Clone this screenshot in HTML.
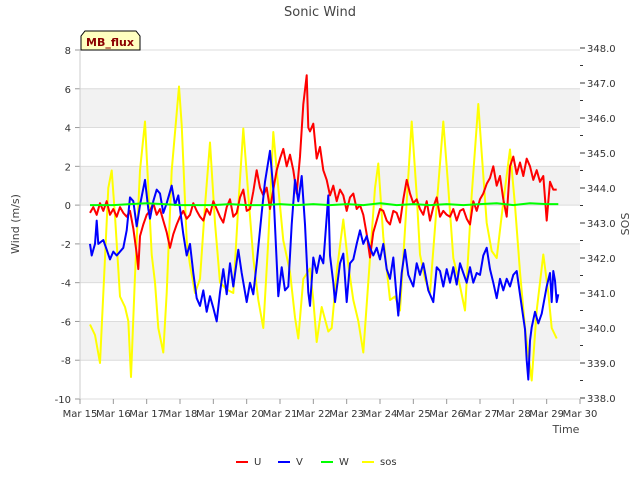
<!DOCTYPE html>
<html><head><meta charset="utf-8"><style>
body{margin:0;background:#fff;}
svg text{font-family:"DejaVu Sans","Liberation Sans",sans-serif;}
</style></head><body>
<svg id="chart" width="640" height="480" viewBox="0 0 640 480">
<g id="bands"></g><g id="grid"></g><g id="axes"></g><g id="series"></g>
<text x="320" y="16" text-anchor="middle" font-size="13" fill="#444">Sonic Wind</text>
<text transform="translate(19,224) rotate(-90)" text-anchor="middle" font-size="11" fill="#444">Wind (m/s)</text>
<text transform="translate(629,224) rotate(-90)" text-anchor="middle" font-size="11" fill="#444">SOS</text>
<text x="566" y="433" text-anchor="middle" font-size="11" fill="#444">Time</text>
<g>
<path d="M81,50 L81,36 L85,31 L136,31 L140,36 L140,50 Z" fill="#ffffc0" stroke="#000" stroke-width="1"/>
<text x="110" y="46" text-anchor="middle" font-size="11" font-weight="bold" fill="#8b0000">MB_flux</text>
</g>
<g id="legend"></g>
</svg>
<script>
const xTickLabels=["Mar 15","Mar 16","Mar 17","Mar 18","Mar 19","Mar 20","Mar 21","Mar 22","Mar 23","Mar 24","Mar 25","Mar 26","Mar 27","Mar 28","Mar 29","Mar 30"];
const yTicks=[-10,-8,-6,-4,-2,0,2,4,6,8];
const y2Ticks=[338,339,340,341,342,343,344,345,346,347,348];
const seriesNames=["U","V","W","sos"];
const seriesColors=["#ff0000","#0000ff","#00ff00","#ffff00"];
const uData=[[0.3,-0.4],[0.4,-0.1],[0.5,-0.5],[0.6,0.1],[0.7,-0.3],[0.8,0.2],[0.9,-0.5],[1.0,-0.2],[1.1,-0.6],[1.2,-0.1],[1.3,-0.4],[1.4,-0.6],[1.5,-0.3],[1.6,-1.2],[1.7,-2.5],[1.75,-3.3],[1.8,-1.6],[1.9,-1.0],[2.0,-0.5],[2.1,-0.3],[2.2,0.1],[2.3,-0.5],[2.4,-0.2],[2.5,-0.8],[2.6,-1.4],[2.7,-2.2],[2.8,-1.5],[2.9,-1.0],[3.0,-0.6],[3.1,-0.3],[3.2,-0.7],[3.3,-0.5],[3.4,0.1],[3.5,-0.3],[3.6,-0.6],[3.7,-0.8],[3.8,-0.2],[3.9,-0.5],[4.0,0.2],[4.1,-0.2],[4.2,-0.6],[4.3,-0.9],[4.4,-0.1],[4.5,0.3],[4.6,-0.6],[4.7,-0.4],[4.8,0.4],[4.9,0.8],[5.0,-0.3],[5.1,-0.2],[5.2,0.7],[5.3,1.8],[5.4,0.9],[5.5,0.5],[5.6,0.9],[5.7,-0.2],[5.8,0.8],[5.9,1.8],[6.0,2.4],[6.1,2.9],[6.2,2.0],[6.3,2.6],[6.4,1.8],[6.5,0.6],[6.6,2.5],[6.7,5.2],[6.8,6.7],[6.85,4.0],[6.9,3.8],[7.0,4.2],[7.1,2.4],[7.2,3.0],[7.3,1.8],[7.4,1.3],[7.5,0.5],[7.6,1.0],[7.7,0.2],[7.8,0.8],[7.9,0.5],[8.0,-0.3],[8.1,0.4],[8.2,0.6],[8.3,-0.2],[8.4,0.0],[8.5,-0.5],[8.6,-1.5],[8.7,-2.7],[8.8,-1.4],[8.9,-0.8],[9.0,-0.2],[9.1,-0.3],[9.2,-0.8],[9.3,-1.0],[9.4,-0.3],[9.5,-0.4],[9.6,-0.9],[9.7,0.3],[9.8,1.3],[9.9,0.6],[10.0,0.1],[10.1,0.3],[10.2,-0.2],[10.3,-0.5],[10.4,0.2],[10.5,-0.8],[10.6,-0.1],[10.7,0.4],[10.8,-0.6],[10.9,-0.3],[11.0,-0.5],[11.1,-0.6],[11.2,-0.2],[11.3,-0.8],[11.4,-0.3],[11.5,-0.2],[11.6,-0.7],[11.7,-1.0],[11.8,0.2],[11.9,-0.3],[12.0,0.3],[12.1,0.6],[12.2,1.1],[12.3,1.4],[12.4,2.0],[12.5,1.0],[12.6,1.5],[12.7,0.3],[12.8,-0.6],[12.9,2.0],[13.0,2.5],[13.1,1.6],[13.2,2.2],[13.3,1.5],[13.4,2.4],[13.5,2.0],[13.6,1.3],[13.7,1.8],[13.8,1.2],[13.9,1.5],[14.0,-0.8],[14.1,1.2],[14.2,0.8],[14.3,0.8]];
const vData=[[0.3,-2.0],[0.35,-2.6],[0.45,-2.0],[0.5,-0.8],[0.55,-2.0],[0.7,-1.8],[0.8,-2.3],[0.9,-2.8],[1.0,-2.4],[1.1,-2.6],[1.3,-2.2],[1.4,-1.3],[1.5,0.4],[1.6,0.2],[1.7,-1.1],[1.8,0.0],[1.95,1.3],[2.05,-0.2],[2.1,-0.7],[2.2,0.2],[2.3,0.8],[2.4,0.6],[2.5,-0.4],[2.6,0.1],[2.75,1.0],[2.85,0.0],[2.95,0.5],[3.1,-1.5],[3.2,-2.6],[3.3,-2.0],[3.4,-3.5],[3.5,-4.8],[3.6,-5.2],[3.7,-4.4],[3.8,-5.5],[3.9,-4.7],[4.0,-5.3],[4.1,-6.0],[4.2,-4.5],[4.3,-3.3],[4.4,-4.6],[4.5,-3.0],[4.6,-4.2],[4.75,-2.3],[4.85,-3.5],[5.0,-5.0],[5.1,-4.0],[5.2,-4.6],[5.3,-3.0],[5.45,-0.4],[5.55,1.2],[5.7,2.8],[5.8,0.8],[5.95,-4.7],[6.05,-3.2],[6.15,-4.4],[6.25,-4.2],[6.35,-1.0],[6.45,1.3],[6.55,0.2],[6.65,1.5],[6.75,-1.0],[6.85,-4.5],[6.9,-5.2],[7.0,-2.7],[7.1,-3.5],[7.2,-2.6],[7.3,-3.0],[7.45,0.5],[7.5,-2.6],[7.6,-4.0],[7.65,-5.0],[7.8,-3.0],[7.9,-2.5],[8.0,-5.0],[8.1,-3.0],[8.2,-2.8],[8.3,-2.0],[8.4,-1.3],[8.5,-2.0],[8.6,-1.6],[8.7,-2.2],[8.8,-2.6],[8.9,-2.2],[9.0,-2.8],[9.1,-2.0],[9.2,-3.3],[9.3,-3.8],[9.4,-2.7],[9.5,-4.8],[9.55,-5.7],[9.65,-3.5],[9.75,-2.3],[9.85,-3.6],[10.0,-4.2],[10.1,-3.0],[10.2,-3.6],[10.3,-3.0],[10.45,-4.4],[10.6,-5.0],[10.7,-3.2],[10.8,-3.4],[10.9,-4.2],[11.0,-3.3],[11.1,-4.0],[11.2,-3.2],[11.3,-4.1],[11.4,-3.0],[11.5,-3.5],[11.6,-4.0],[11.7,-3.2],[11.8,-4.0],[11.9,-3.5],[12.0,-3.6],[12.1,-2.6],[12.2,-2.2],[12.3,-3.3],[12.4,-4.0],[12.5,-4.8],[12.6,-3.8],[12.7,-4.4],[12.8,-3.8],[12.9,-4.2],[13.0,-3.6],[13.1,-3.4],[13.2,-4.6],[13.3,-5.8],[13.35,-6.4],[13.4,-8.0],[13.45,-9.0],[13.5,-7.0],[13.55,-6.3],[13.65,-5.5],[13.75,-6.1],[13.85,-5.6],[14.0,-4.2],[14.1,-3.5],[14.15,-5.0],[14.2,-3.4],[14.25,-3.9],[14.3,-5.0],[14.35,-4.6]];
const wData=[[0.3,0.0],[1.0,0.0],[1.5,0.05],[2.0,0.1],[2.5,0.05],[3.0,0.0],[3.5,0.0],[4.0,0.0],[4.5,0.05],[5.0,0.0],[5.5,0.0],[6.0,0.05],[6.5,0.0],[7.0,0.05],[7.5,0.0],[8.0,0.05],[8.5,0.0],[9.0,0.1],[9.5,0.0],[10.0,0.05],[10.5,0.0],[11.0,0.05],[11.5,0.0],[12.0,0.05],[12.5,0.1],[13.0,0.0],[13.5,0.1],[14.0,0.05],[14.35,0.05]];
const sosData=[[0.3,340.1],[0.45,339.8],[0.6,339.0],[0.75,342.0],[0.85,344.0],[0.95,344.5],[1.05,343.2],[1.2,340.9],[1.35,340.6],[1.45,340.2],[1.53,338.6],[1.65,341.5],[1.8,344.5],[1.95,345.9],[2.05,344.0],[2.15,342.1],[2.25,341.3],[2.35,340.0],[2.5,339.3],[2.6,341.0],[2.75,344.5],[2.97,346.9],[3.05,345.8],[3.2,342.5],[3.3,341.8],[3.45,341.0],[3.6,341.4],[3.75,343.5],[3.9,345.3],[4.05,343.0],[4.2,341.3],[4.4,341.1],[4.6,341.0],[4.75,343.5],[4.9,345.7],[5.05,343.8],[5.2,342.0],[5.35,340.8],[5.5,340.0],[5.65,342.5],[5.8,345.6],[5.95,344.0],[6.1,342.5],[6.3,341.6],[6.45,340.3],[6.55,339.7],[6.7,341.4],[6.9,341.7],[7.0,340.8],[7.1,339.6],[7.25,340.6],[7.45,339.9],[7.55,340.0],[7.7,341.6],[7.9,343.1],[8.05,341.8],[8.2,340.8],[8.35,340.2],[8.5,339.3],[8.7,342.0],[8.85,344.0],[8.95,344.7],[9.1,342.6],[9.3,340.8],[9.45,340.9],[9.6,340.5],[9.8,343.6],[9.95,345.9],[10.1,343.8],[10.2,342.1],[10.35,341.4],[10.5,341.0],[10.7,343.5],[10.9,345.9],[11.05,344.0],[11.2,342.0],[11.4,341.2],[11.55,340.5],[11.75,343.8],[11.95,346.4],[12.05,345.0],[12.2,343.0],[12.35,342.2],[12.5,342.0],[12.7,343.6],[12.9,345.1],[13.05,343.5],[13.2,341.6],[13.35,340.0],[13.55,338.5],[13.7,340.5],[13.9,342.1],[14.05,341.0],[14.15,340.0],[14.3,339.7]];

const NS="http://www.w3.org/2000/svg";
const L=80,R=580,T=50,B=399;
function xs(d){return L+d*(R-L)/15;}
function ys(v){return T+(8-v)*(B-T)/18;}
function ys2(v){return 48+(348-v)*35;}
function mk(tag,attrs,parent){const e=document.createElementNS(NS,tag);for(const k in attrs)e.setAttribute(k,attrs[k]);parent.appendChild(e);return e;}
const bands=document.getElementById('bands'),grid=document.getElementById('grid'),axes=document.getElementById('axes'),ser=document.getElementById('series'),leg=document.getElementById('legend');
mk('rect',{x:L,y:T,width:R-L,height:B-T,fill:'#fff'},bands);
for(const lo of [4,0,-4,-8]){
  const b=mk('rect',{x:L,y:ys(lo+2),width:R-L,height:ys(lo)-ys(lo+2),fill:'#f2f2f2'},bands);
  
  
}
yTicks.forEach(v=>{
  const g=mk('line',{x1:L,x2:R,y1:ys(v),y2:ys(v),stroke:'#dcdcdc','stroke-width':1},grid);
  
  
  const t=mk('text',{x:L-9,y:ys(v)+4,'text-anchor':'end','font-size':10,fill:'#333'},axes);
  t.textContent=v;
  
  
  mk('line',{x1:L-5,x2:L,y1:ys(v),y2:ys(v),stroke:'#999'},axes);
});
y2Ticks.forEach(v=>{
  mk('line',{x1:R,x2:R+5,y1:ys2(v),y2:ys2(v),stroke:'#333'},axes);
  if(v<348)mk('line',{x1:R,x2:R+3,y1:ys2(v+0.5),y2:ys2(v+0.5),stroke:'#333'},axes);
  const t=mk('text',{x:R+7,y:ys2(v)+4,'font-size':10,fill:'#333'},axes);
  t.textContent=v.toFixed(1);
  
  
});
xTickLabels.forEach((s,i)=>{
  mk('line',{x1:xs(i),x2:xs(i),y1:B,y2:B+5,stroke:'#999'},axes);
  const t=mk('text',{x:xs(i),y:B+18,'text-anchor':'middle','font-size':10,fill:'#333'},axes);
  t.textContent=s;
  
  
});
mk('line',{x1:L,x2:L,y1:T,y2:B,stroke:'#ccc'},axes);
function draw(data,color,yf,name){
  const p=mk('polyline',{points:data.map(d=>xs(d[0]).toFixed(1)+','+yf(d[1]).toFixed(1)).join(' '),fill:'none',stroke:color,'stroke-width':2,'stroke-linejoin':'round'},ser);
  
  
}
draw(sosData,seriesColors[3],ys2,'sos-line');
draw(uData,seriesColors[0],ys,'u-line');
draw(vData,seriesColors[1],ys,'v-line');
draw(wData,seriesColors[2],ys,'w-line');
const lx=[236,278,321,362];
seriesNames.forEach((n,i)=>{
  const g=mk('g',{},leg);
  
  
  mk('line',{x1:lx[i],x2:lx[i]+12,y1:462,y2:462,stroke:seriesColors[i],'stroke-width':2},g);
  const t=mk('text',{x:lx[i]+18,y:465,'font-size':10,fill:'#333'},g);
  t.textContent=n;
});
</script>
</body></html>
